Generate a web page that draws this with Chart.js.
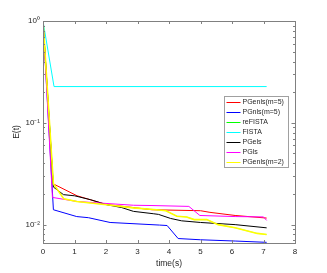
<!DOCTYPE html>
<html>
<head>
<meta charset="utf-8">
<script src="https://cdn.jsdelivr.net/npm/chart.js@4.4.0/dist/chart.umd.min.js"></script>
<style>
  html, body { margin: 0; padding: 0; background: #fff; }
  #wrap { width: 327px; height: 273px; }
</style>
</head>
<body>
<div id="wrap"><canvas id="chart"></canvas></div>
<script>
// series names and colours, in legend order
const seriesNames = ['PGenls(m=5)', 'PGnls(m=5)', 'reFISTA', 'FISTA', 'PGels', 'PGls', 'PGenls(m=2)'];
const seriesColors = ['#ff0000', '#0000ff', '#00ff00', '#00ffff', '#000000', '#ff00ff', '#ffff00'];

// time (s) and E(t) per series
const tRed = [0, 0.32, 1.08, 2, 3.46, 5, 5.3, 6.1, 7.1];
const eRed = [1, 0.0252, 0.0192, 0.0158, 0.0140, 0.0137, 0.0132, 0.0123, 0.0116];

const tBlue = [0, 0.33, 1.07, 1.44, 2.13, 3.7, 3.94, 4.29, 5, 6.1, 7.1];
const eBlue = [1, 0.0140, 0.0120, 0.0117, 0.0105, 0.0099, 0.0098, 0.0073, 0.0071, 0.0069, 0.0067];

// reFISTA lies under PGenls(m=2) in the picture
const tGreen = [0, 0.33, 0.66, 1.07, 2.02, 2.87, 3.6, 3.9, 4.25, 4.56, 4.8, 5.2, 5.56, 6.1, 6.8, 7.1];
const eGreen = [1, 0.0252, 0.0179, 0.0169, 0.0157, 0.0146, 0.0140, 0.0137, 0.0121, 0.0119, 0.0112, 0.0112, 0.0100, 0.0093, 0.0082, 0.0080];

const tCyan = [0, 0.35, 7.1];
const eCyan = [1, 0.227, 0.227];

const tBlack = [0, 0.33, 0.65, 1.0, 1.5, 2.02, 2.5, 2.87, 3.5, 3.67, 4.05, 4.4, 5, 6.1, 7.1];
const eBlack = [1, 0.0234, 0.0197, 0.0192, 0.0176, 0.0157, 0.0147, 0.0135, 0.0128, 0.0126, 0.0115, 0.0109, 0.0105, 0.0100, 0.0093];

const tMagenta = [0, 0.3, 1.07, 1.8, 2.87, 3.46, 4.63, 4.98, 6.1, 7.0, 7.1];
const eMagenta = [1, 0.0185, 0.0169, 0.0163, 0.0155, 0.0154, 0.0151, 0.0123, 0.0120, 0.0119, 0.0110];

const tYellow = [0, 0.33, 0.66, 1.07, 2.02, 2.87, 3.6, 3.9, 4.25, 4.56, 4.8, 5.2, 5.56, 6.1, 6.8, 7.1];
const eYellow = [1, 0.0252, 0.0179, 0.0169, 0.0157, 0.0146, 0.0140, 0.0137, 0.0121, 0.0119, 0.0112, 0.0112, 0.0100, 0.0093, 0.0082, 0.0080];

const allT = [tRed, tBlue, tGreen, tCyan, tBlack, tMagenta, tYellow];
const allE = [eRed, eBlue, eGreen, eCyan, eBlack, eMagenta, eYellow];
const lineWidths = [1, 1, 0.4, 1, 1, 1, 1.6];

// axis ticks
const xTicks = [0, 1, 2, 3, 4, 5, 6, 7, 8];
const yTicks = [0.01, 0.1, 1];
const yTickLabels = ['10\u207B\u00B2', '10\u207B\u00B9', '10\u2070'];

const axisColor = '#808080';
const textColor = '#262626';
const fontFamily = '"Liberation Sans", Arial, Helvetica, sans-serif';

const datasets = seriesNames.map(function(name, i) {
    return {
        label: name,
        data: allT[i].map(function(t, j) { return { x: t, y: allE[i][j] }; }),
        borderColor: seriesColors[i],
        backgroundColor: seriesColors[i],
        borderWidth: lineWidths[i],
        pointRadius: 0,
        tension: 0,
        fill: false,
        order: seriesNames.length - i   // lower order is drawn last, so later series end up on top
    };
});

// box, inward ticks and in-plot legend
const matlabAxes = {
    id: 'matlabAxes',
    afterDatasetsDraw: function(chart) {
        const ctx = chart.ctx;
        const a = chart.chartArea;
        const xs = chart.scales.x, ys = chart.scales.y;
        ctx.save();
        ctx.strokeStyle = axisColor;
        ctx.lineWidth = 1;
        ctx.strokeRect(Math.round(a.left) + 0.5, Math.round(a.top) + 0.5,
                       Math.round(a.right - a.left), Math.round(a.bottom - a.top));
        ctx.beginPath();
        xTicks.forEach(function(v) {
            const px = Math.round(xs.getPixelForValue(v)) + 0.5;
            ctx.moveTo(px, a.bottom); ctx.lineTo(px, a.bottom - 3);
            ctx.moveTo(px, a.top); ctx.lineTo(px, a.top + 3);
        });
        for (let p = -3; p <= 0; p++) {
            for (let k = 1; k <= 9; k++) {
                const v = k * Math.pow(10, p);
                if (v < ys.min || v > ys.max) continue;
                const py = Math.round(ys.getPixelForValue(v)) + 0.5;
                const len = k === 1 ? 3.5 : 2;
                ctx.moveTo(a.left, py); ctx.lineTo(a.left + len, py);
                ctx.moveTo(a.right, py); ctx.lineTo(a.right - len, py);
            }
        }
        ctx.stroke();

        // legend
        const lx = 224.5, ly = 96.5, lw = 64, lh = 71;
        ctx.fillStyle = '#fff';
        ctx.fillRect(lx, ly, lw, lh);
        ctx.strokeStyle = '#a0a0a0';
        ctx.strokeRect(lx, ly, lw, lh);
        ctx.font = '7px ' + fontFamily;
        ctx.textBaseline = 'middle';
        ctx.textAlign = 'left';
        ctx.lineWidth = 1;
        chart.data.datasets.forEach(function(ds, i) {
            const y = Math.round(ly + 5.5 + i * 10) + 0.5;
            ctx.strokeStyle = ds.borderColor;
            ctx.beginPath();
            ctx.moveTo(lx + 2, y); ctx.lineTo(lx + 16, y);
            ctx.stroke();
            ctx.fillStyle = textColor;
            ctx.fillText(ds.label, lx + 18, y);
        });
        ctx.restore();
    }
};

new Chart(document.getElementById('chart').getContext('2d'), {
    type: 'line',
    data: { datasets: datasets },
    options: {
        responsive: true,
        maintainAspectRatio: false,
        animation: false,
        devicePixelRatio: 1,
        layout: { padding: { left: 8, right: 32, top: 21, bottom: 0 } },
        plugins: {
            legend: { display: false },
            tooltip: { enabled: false }
        },
        scales: {
            x: {
                type: 'linear',
                min: 0,
                max: 8,
                grid: { display: false, drawTicks: false, tickLength: 0 },
                border: { display: false },
                afterBuildTicks: function(scale) {
                    scale.ticks = xTicks.map(function(v) { return { value: v }; });
                },
                afterFit: function(scale) { scale.height = 30; },
                ticks: {
                    color: textColor,
                    padding: 4,
                    maxRotation: 0,
                    font: { family: fontFamily, size: 8 }
                },
                title: {
                    display: true,
                    text: 'time(s)',
                    color: textColor,
                    padding: { top: 0, bottom: 4 },
                    font: { family: fontFamily, size: 8.5 }
                }
            },
            y: {
                type: 'logarithmic',
                min: 0.0066,
                max: 1,
                grid: { display: false, drawTicks: false, tickLength: 0 },
                border: { display: false },
                afterBuildTicks: function(scale) {
                    scale.ticks = yTicks.map(function(v) { return { value: v }; });
                },
                afterFit: function(scale) { scale.width = 35; },
                ticks: {
                    color: textColor,
                    padding: 3,
                    font: { family: fontFamily, size: 8 },
                    callback: function(value) {
                        const i = yTicks.indexOf(value);
                        return i >= 0 ? yTickLabels[i] : '';
                    }
                },
                title: {
                    display: true,
                    text: 'E(t)',
                    color: textColor,
                    padding: { top: 4, bottom: 0 },
                    font: { family: fontFamily, size: 8.5 }
                }
            }
        }
    },
    plugins: [matlabAxes]
});
</script>
</body>
</html>
